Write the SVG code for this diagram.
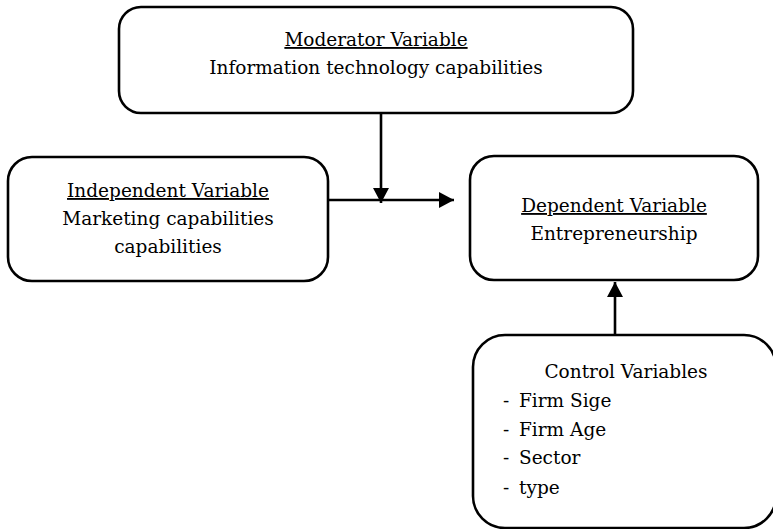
<svg xmlns="http://www.w3.org/2000/svg" width="773" height="529" viewBox="0 0 773 529">
<style>
.box{fill:#fff;stroke:#000;stroke-width:2.6}
.t{font-family:"DejaVu Serif","Liberation Serif",serif;font-size:18.5px;fill:#000}
.c{text-anchor:middle}
.ln{stroke:#000;stroke-width:2.6;fill:none}
.ul{text-decoration:underline}
</style>
<defs>
<marker id="ah" markerWidth="16" markerHeight="16" refX="15" refY="8" orient="auto" markerUnits="userSpaceOnUse">
<path d="M0,0 L15,8 L0,16 z" fill="#000"/>
</marker>
</defs>
<rect width="773" height="529" fill="#fff"/>
<g id="connectors">
<line class="ln" x1="328" y1="200" x2="454" y2="200" marker-end="url(#ah)"/>
<line class="ln" x1="381" y1="113" x2="381" y2="203" marker-end="url(#ah)"/>
<line class="ln" x1="615" y1="335" x2="615" y2="282" marker-end="url(#ah)"/>
</g>
<g id="moderator">
<rect class="box" x="119" y="7" width="514" height="106" rx="22"/>
<text class="t c ul" x="376" y="46">Moderator Variable</text>
<text class="t c" x="376" y="74">Information technology capabilities</text>
</g>
<g id="independent">
<rect class="box" x="8" y="157" width="320" height="124" rx="24"/>
<text class="t c ul" x="168" y="197">Independent Variable</text>
<text class="t c" x="168" y="225">Marketing capabilities</text>
<text class="t c" x="168" y="253">capabilities</text>
</g>
<g id="dependent">
<rect class="box" x="470" y="156" width="288" height="124" rx="24"/>
<text class="t c ul" x="614" y="212">Dependent Variable</text>
<text class="t c" x="614" y="240">Entrepreneurship</text>
</g>
<g id="control">
<rect class="box" x="473" y="335" width="303" height="193" rx="32"/>
<text class="t c" x="626" y="378">Control Variables</text>
<text class="t" x="503" y="407">-</text>
<text class="t" x="519" y="407">Firm Sige</text>
<text class="t" x="503" y="436">-</text>
<text class="t" x="519" y="436">Firm Age</text>
<text class="t" x="503" y="464">-</text>
<text class="t" x="519" y="464">Sector</text>
<text class="t" x="503" y="494">-</text>
<text class="t" x="519" y="494">type</text>
</g>
</svg>
